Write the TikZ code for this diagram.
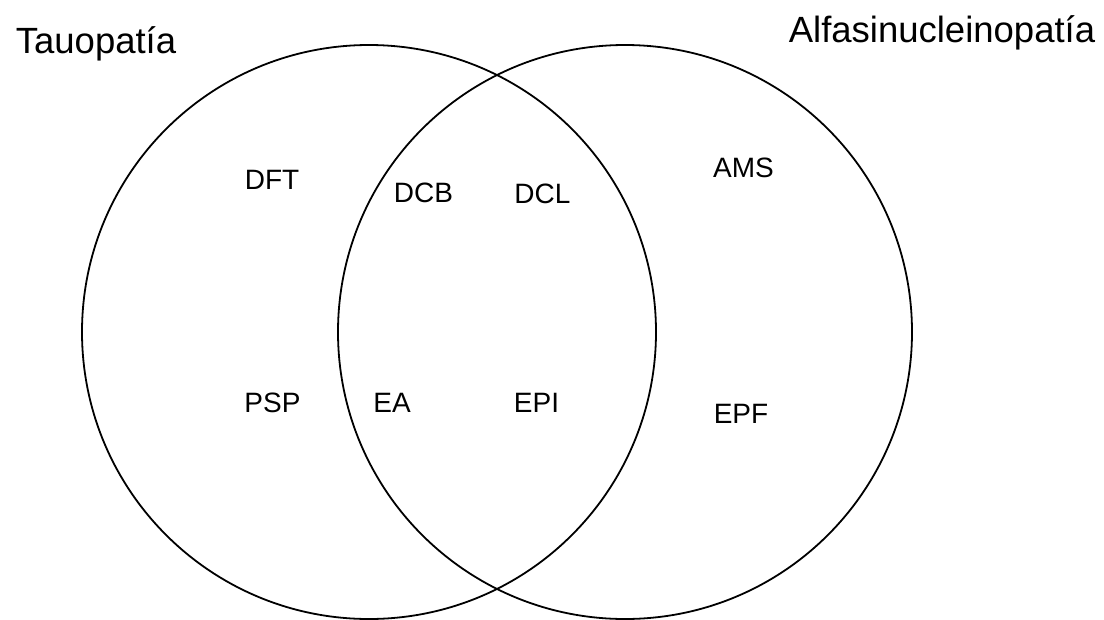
\documentclass[tikz,border=0pt]{standalone}
\usepackage{fontspec}
\setmainfont{Liberation Sans}
\begin{document}
\begin{tikzpicture}[x=1pt,y=-1pt]
\tikzset{
  setcircle/.style={circle,draw,line width=1.8pt,minimum size=574pt,inner sep=0pt},
  lbl/.style={font=\fontsize{28}{30}\selectfont,anchor=base,inner sep=0pt},
  ttl/.style={font=\fontsize{36.5}{40}\selectfont,anchor=base,inner sep=0pt}
}
\useasboundingbox[fill=white] (0,0) rectangle (1104,619);
\node[setcircle] (tau) at (369,332) {};
\node[setcircle] (alfa) at (625,332) {};
\node[ttl] (ttau) at (96,53) {Tauopatía};
\node[ttl] (talfa) at (942,42) {Alfasinucleinopatía};
\node[lbl] (dft) at (272,189) {DFT};
\node[lbl] (dcb) at (423.5,202) {DCB};
\node[lbl] (dcl) at (542.5,203) {DCL};
\node[lbl] (ams) at (743.5,177) {AMS};
\node[lbl] (psp) at (272.5,412) {PSP};
\node[lbl] (ea) at (392,412) {EA};
\node[lbl] (epi) at (536.5,412) {EPI};
\node[lbl] (epf) at (741,423) {EPF};
\end{tikzpicture}
\end{document}
